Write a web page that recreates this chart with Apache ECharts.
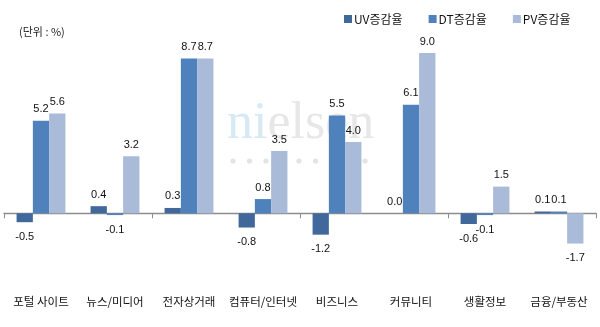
<!DOCTYPE html>
<html>
<head>
<meta charset="utf-8">
<script src="https://cdn.jsdelivr.net/npm/echarts@6/dist/echarts.min.js"></script>
<style>
  html, body { margin: 0; padding: 0; background: #fff; }
  #chart { width: 600px; height: 327px; }
</style>
</head>
<body>
<div id="chart"></div>
<script>
// Category names and growth rates (%) per metric
var categories = ['포털 사이트', '뉴스/미디어', '전자상거래', '컴퓨터/인터넷', '비즈니스', '커뮤니티', '생활정보', '금융/부동산'];
var uvRates = [-0.5, 0.4, 0.3, -0.8, -1.2, 0.0, -0.6, 0.1];
var dtRates = [5.2, -0.1, 8.7, 0.8, 5.5, 6.1, -0.1, 0.1];
var pvRates = [5.6, 3.2, 8.7, 3.5, 4.0, 9.0, 1.5, -1.7];
var seriesNames = ['UV증감율', 'DT증감율', 'PV증감율'];
var seriesColors = ['#41689b', '#4f81bd', '#aabad9'];
var unitText = '(단위 : %)';

var KR_FONT = '"Noto Sans CJK KR", "Noto Sans", sans-serif';
var NUM_FONT = '"Liberation Sans", Arial, sans-serif';

// Labels sit above positive bars and below negative ones
function toItems(values) {
  return values.map(function (v) {
    return {
      value: v,
      label: v < 0 ? { position: 'bottom', distance: 9 } : { position: 'top', distance: 6 }
    };
  });
}

function barSeries(i, values) {
  return {
    name: seriesNames[i],
    type: 'bar',
    xAxisIndex: 0,
    data: toItems(values),
    itemStyle: { color: seriesColors[i] },
    barGap: '0%',
    barCategoryGap: '34%',
    label: {
      show: true,
      color: '#111',
      fontSize: 11,
      fontFamily: NUM_FONT,
      formatter: function (p) { return p.value.toFixed(1); }
    },
    z: 2
  };
}

// Faint brand watermark behind the bars
var dots = [];
for (var k = 0; k < 9; k++) {
  dots.push({
    type: 'circle',
    shape: { cx: 233 + k * 16.5, cy: 161, r: 2.6 },
    style: { fill: '#e4e4e4' },
    z: 0
  });
}

var chart = echarts.init(document.getElementById('chart'), null, { renderer: 'canvas' });
chart.setOption({
  animation: false,
  backgroundColor: '#ffffff',
  title: {
    text: unitText,
    left: 14,
    top: 21,
    textStyle: { fontSize: 11, fontWeight: 'normal', color: '#222', fontFamily: KR_FONT }
  },
  legend: {
    data: seriesNames,
    left: 339,
    top: 8,
    itemWidth: 8,
    itemHeight: 8,
    itemGap: 26,
    icon: 'rect',
    textStyle: { fontSize: 12, color: '#111', fontFamily: KR_FONT, padding: [0, 0, 0, -3] }
  },
  graphic: [
    {
      type: 'text',
      x: 227,
      y: 150,
      z: 0,
      style: {
        text: '{a|ni}{b|elsen}',
        textVerticalAlign: 'bottom',
        verticalAlign: 'bottom',
        rich: {
          a: { fontSize: 52, fontFamily: '"Liberation Serif", "DejaVu Serif", serif', fill: '#d7eaf3' },
          b: { fontSize: 52, fontFamily: '"Liberation Serif", "DejaVu Serif", serif', fill: '#e7e7e7' }
        }
      }
    }
  ].concat(dots),
  grid: { left: 4, right: 4, top: 35.3, bottom: 42.5, containLabel: false },
  xAxis: [
    {
      type: 'category',
      data: categories,
      axisLine: { onZero: true, lineStyle: { color: '#8c8c8c', width: 1.3 } },
      axisTick: { show: true, length: 5, inside: false, lineStyle: { color: '#8c8c8c' } },
      axisLabel: { show: false },
      splitLine: { show: false }
    },
    {
      type: 'category',
      data: categories,
      position: 'bottom',
      axisLine: { show: false, onZero: false },
      axisTick: { show: false },
      axisLabel: { show: true, margin: 11, fontSize: 11.5, color: '#111', fontFamily: KR_FONT, interval: 0 },
      splitLine: { show: false }
    }
  ],
  yAxis: {
    type: 'value',
    min: -4,
    max: 10,
    show: false,
    splitLine: { show: false }
  },
  series: [
    barSeries(0, uvRates),
    barSeries(1, dtRates),
    barSeries(2, pvRates)
  ]
});
</script>
</body>
</html>
